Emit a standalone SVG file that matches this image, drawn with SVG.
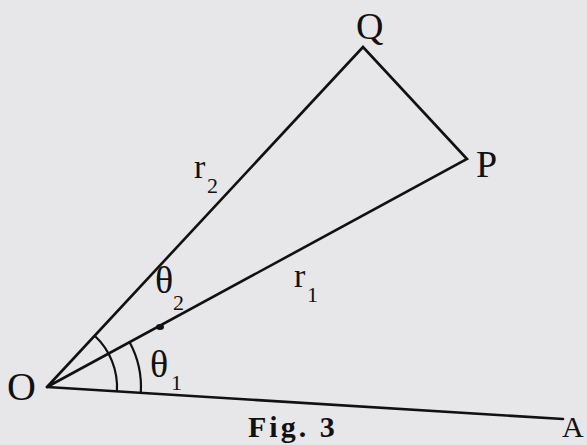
<svg xmlns="http://www.w3.org/2000/svg" width="587" height="445" viewBox="0 0 587 445">
<style>
.ln{stroke:#111;stroke-width:2.6;fill:none;stroke-linecap:round;stroke-linejoin:miter}
.arc{stroke:#111;stroke-width:2.2;fill:none}
.t{font-family:"Liberation Serif","Times New Roman",serif;fill:#111}
.lbl{font-size:38px}
.th{font-size:38px}
.r{font-size:34px}
.sub{font-size:22px}
</style>
<rect width="587" height="445" fill="#e7e7ea"/>
<g id="connectors">
<path class="ln" d="M47,387 L363,47 L467,159 L47,387"/>
<path class="ln" d="M47,387 L563,419"/>
<path class="arc" d="M116.9,391.3 A70,70 0 0 0 94.7,335.8"/>
<path class="arc" d="M140.8,392.8 A94,94 0 0 0 129.6,342.2"/>
<ellipse cx="160" cy="327" rx="4" ry="3" fill="#111"/>
</g>
<g id="O"><text class="t" style="font-size:40px" x="7" y="400">O</text></g>
<g id="Q"><text class="t lbl" x="356" y="39">Q</text></g>
<g id="P"><text class="t lbl" x="476" y="177">P</text></g>
<g id="A"><text class="t" style="font-size:30px" x="562" y="437">A</text></g>
<g id="r2"><text class="t r" x="194" y="178">r</text><text class="t sub" x="207" y="193">2</text></g>
<g id="r1"><text class="t r" x="294" y="287">r</text><text class="t sub" x="307" y="302">1</text></g>
<g id="theta2"><text class="t th" x="155" y="293">θ</text><text class="t sub" x="173" y="310">2</text></g>
<g id="theta1"><text class="t th" x="150" y="377">θ</text><text class="t sub" x="171" y="390">1</text></g>
<g id="caption"><text class="t" style="font-size:30px;font-weight:bold;letter-spacing:3px" x="248" y="437">Fig. 3</text></g>
</svg>
